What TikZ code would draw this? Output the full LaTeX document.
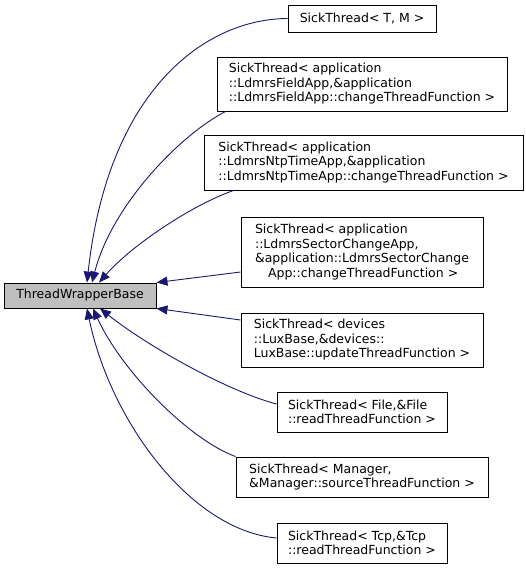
\documentclass[tikz,border=0pt]{standalone}
\usepackage{fontspec}
\setmainfont{DejaVu Sans}
\usetikzlibrary{arrows.meta}
\definecolor{edgeblue}{HTML}{191970}
\definecolor{basegray}{HTML}{BFBFBF}
\tikzset{
  cls/.style={draw=black, line width=0.9pt, align=left, inner xsep=0pt,
    font=\fontsize{12.5}{14.5}\selectfont},
  inherit/.style={draw=edgeblue, line width=0.9pt,
    -{Triangle[length=11pt,width=9pt,fill=edgeblue]}}
}
\begin{document}
\begin{tikzpicture}[x=1pt,y=1pt]
        \useasboundingbox (0,0) rectangle (525,-569);

        % Base class
        \node[cls, fill=basegray, minimum width=152pt, minimum height=25pt] (base) at (80,-295.5) {ThreadWrapperBase};

        % Derived classes
        \node[cls, minimum width=148pt, minimum height=27pt] (tm) at (362,-18.5) {SickThread< T, M >};
        \node[cls, minimum width=290pt, minimum height=54pt] (field) at (362,-84) {SickThread< application\\::LdmrsFieldApp,\&application\\::LdmrsFieldApp::changeThreadFunction >};
        \node[cls, minimum width=319pt, minimum height=55pt] (ntp) at (363.5,-162.5) {SickThread< application\\::LdmrsNtpTimeApp,\&application\\::LdmrsNtpTimeApp::changeThreadFunction >};
        \node[cls, minimum width=242pt, minimum height=70pt] (sector) at (362,-252) {SickThread< application\\::LdmrsSectorChangeApp,\\\&application::LdmrsSectorChange\\\hspace*{13pt}App::changeThreadFunction >};
        \node[cls, minimum width=242pt, minimum height=54pt] (lux) at (362,-340) {SickThread< devices\\::LuxBase,\&devices::\\LuxBase::updateThreadFunction >};
        \node[cls, minimum width=170pt, minimum height=40pt] (file) at (362,-412) {SickThread< File,\&File\\::readThreadFunction >};
        \node[cls, minimum width=252pt, minimum height=40pt] (manager) at (362,-477) {SickThread< Manager,\\\&Manager::sourceThreadFunction >};
        \node[cls, minimum width=170pt, minimum height=40pt] (tcp) at (362,-543) {SickThread< Tcp,\&Tcp\\::readThreadFunction >};

        % Inheritance edges
        \draw[inherit] (tm.west) .. controls (205,-19) and (108,-90) .. ([xshift=7pt]base.north);
        \draw[inherit] ([xshift=9pt]field.south west) .. controls (180,-135) and (112,-205) .. ([xshift=12pt]base.north);
        \draw[inherit] ([xshift=30pt]ntp.south west) .. controls (192,-205) and (132,-245) .. ([xshift=19pt]base.north);
        \draw[inherit] ([yshift=-20pt]sector.west) -- (base.north east);
        \draw[inherit] ([yshift=20pt]lux.west) -- (base.south east);
        \draw[inherit] ([yshift=8pt]file.west) .. controls (230,-392) and (150,-348) .. ([xshift=20pt]base.south);
        \draw[inherit] (manager.north west) .. controls (190,-440) and (122,-372) .. ([xshift=13pt]base.south);
        \draw[inherit] ([yshift=5pt]tcp.west) .. controls (190,-530) and (110,-420) .. ([xshift=7pt]base.south);
\end{tikzpicture}
\end{document}
